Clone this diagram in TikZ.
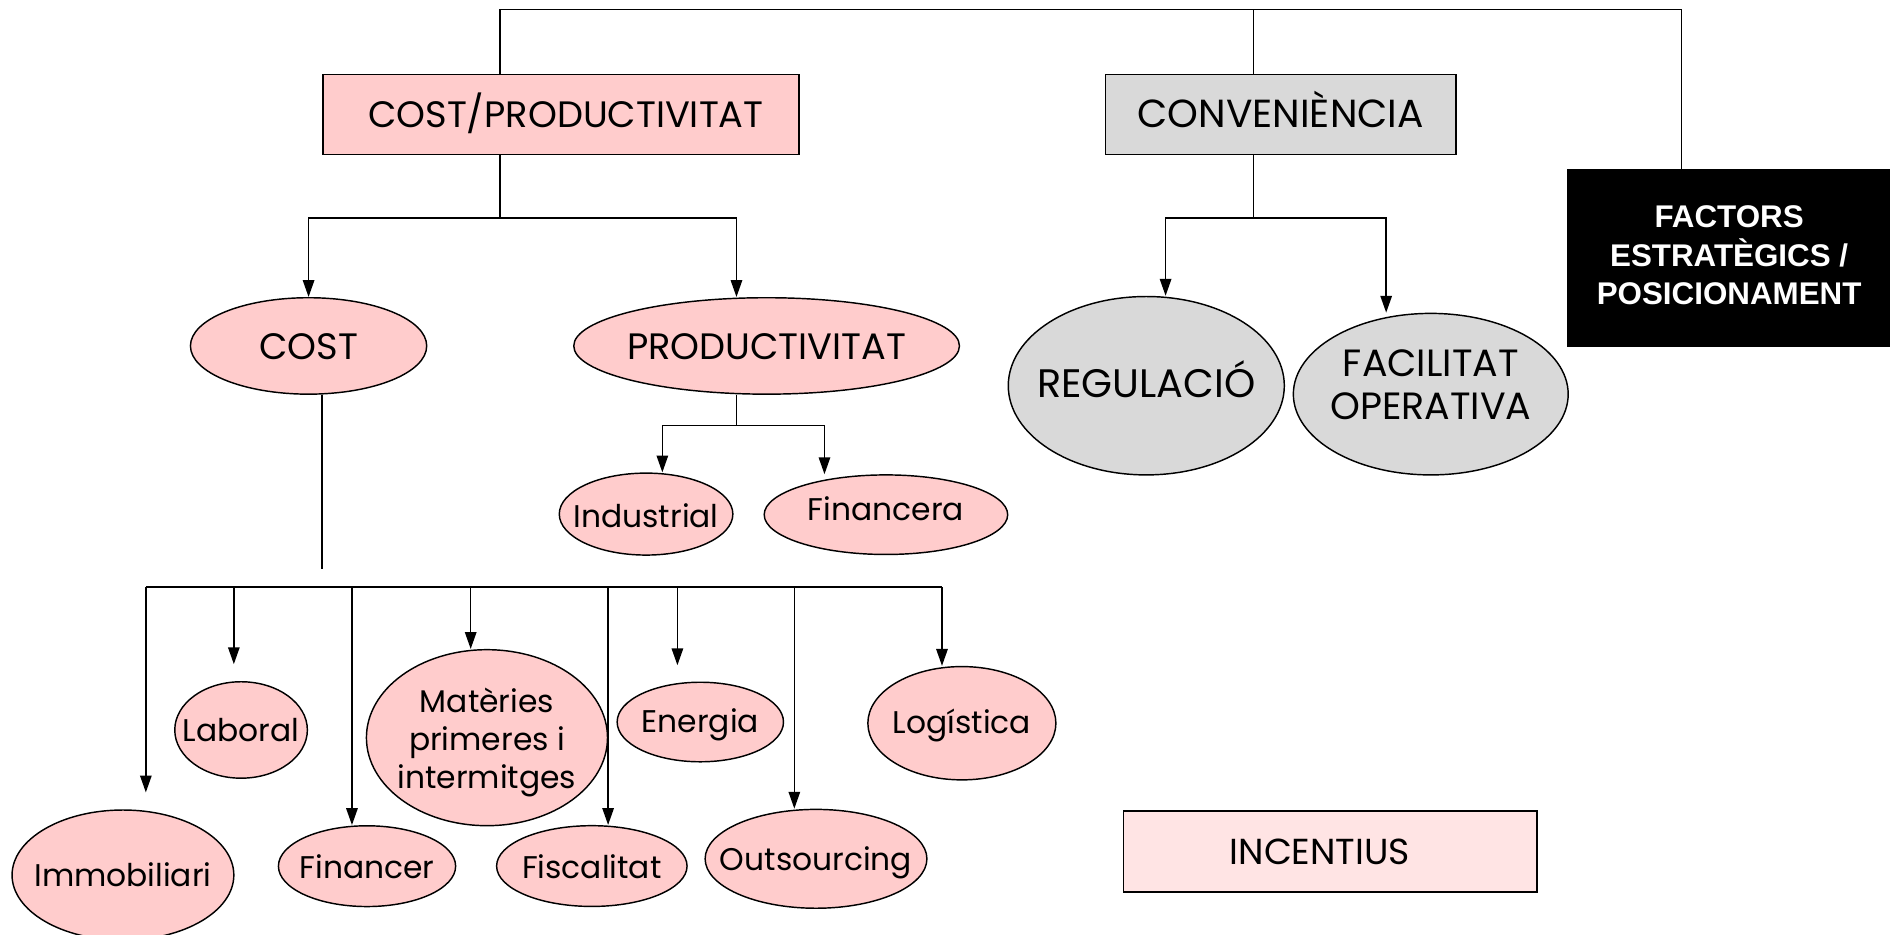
\documentclass[tikz,border=0pt]{standalone}
\usepackage{fontspec}
\usepackage{tikz}
\usetikzlibrary{shapes.geometric,arrows.meta}
\newfontfamily\gothic{Poppins}
\newfontfamily\arialfont{Liberation Sans}
\definecolor{rosa}{HTML}{FFCCCC}
\definecolor{gris}{HTML}{D9D9D9}
\definecolor{rosaclar}{HTML}{FFE4E4}
% text that does not widen the ellipse
\newcommand{\lbl}[2][-3.5pt]{\raisebox{#1}[\height][\depth]{\makebox[0pt]{\begin{tabular}{@{}c@{}}#2\end{tabular}}}}

\begin{document}
\begin{tikzpicture}[x=1pt,y=-1pt,line width=1.3pt,
    box/.style={draw, line width=1.2pt, inner sep=0pt, text height=22pt, text depth=0pt},
    ell/.style={draw, line width=1.2pt, ellipse, inner sep=0pt, fill=rosa, font=\gothic\fontsize{26}{31.5}\selectfont},
    arr/.style={-{Triangle[length=14pt,width=9.5pt]}}]
    \useasboundingbox (0,0) rectangle (1568,775.7);

    % Boxes
    \node[box, fill=rosa, minimum width=395, minimum height=66, font=\gothic\fontsize{30.5}{36}\selectfont]
        (cp) at (465.5,95) {\hspace*{8pt}COST/PRODUCTIVITAT};
    \node[box, fill=gris, minimum width=291, minimum height=66, font=\gothic\fontsize{32.5}{38}\selectfont]
        (conv) at (1062.5,95) {CONVENIÈNCIA};
    \node[draw, fill=black, text=white, minimum width=267, minimum height=146, inner sep=0pt,
        font=\arialfont\bfseries\fontsize{26}{31}\selectfont] (fact) at (1434.5,214)
        {\raisebox{-0.5pt}[\height][\depth]{\begin{tabular}{@{}c@{}}FACTORS\\ESTRATÈGICS /\\POSICIONAMENT\end{tabular}}};
    \node[box, fill=rosaclar, minimum width=343, minimum height=67, font=\gothic\fontsize{30}{36}\selectfont]
        (inc) at (1103.5,706.5) {INCENTIUS\hspace*{17pt}};

    % Ellipses
    \node[ell, minimum width=196, minimum height=80, font=\gothic\fontsize{30.5}{36}\selectfont] (cost) at (256,287) {\lbl[-4pt]{COST}};
    \node[ell, minimum width=320, minimum height=80, font=\gothic\fontsize{30.5}{36}\selectfont] (prod) at (636,287) {\lbl[-4pt]{PRODUCTIVITAT}};
    \node[ell, fill=gris, minimum width=229, minimum height=148, font=\gothic\fontsize{33}{36}\selectfont] (regu) at (951,320) {\lbl[0pt]{REGULACIÓ}};
    \node[ell, fill=gris, minimum width=228, minimum height=134, font=\gothic\fontsize{31.5}{36}\selectfont] (faci) at (1187,327) {\lbl[4pt]{FACILITAT\\OPERATIVA}};
    \node[ell, minimum width=144, minimum height=68] (indu) at (536,426.5) {\lbl[-5pt]{Industrial}};
    \node[ell, minimum width=202, minimum height=66] (finc) at (735,427) {\lbl[1.5pt]{Financera}};
    \node[ell, minimum width=184, minimum height=108] (immo) at (102,726) {\lbl{Immobiliari}};
    \node[ell, minimum width=110, minimum height=80] (labo) at (200,605.6) {\lbl{Laboral}};
    \node[ell, minimum width=200, minimum height=146] (mate) at (404,612) {\lbl[-4.5pt]{Matèries\\primeres i\\intermitges}};
    \node[ell, minimum width=138, minimum height=66] (ener) at (581,599) {\lbl[-2.5pt]{Energia}};
    \node[ell, minimum width=156, minimum height=94] (logi) at (798,600) {\lbl[-2.5pt]{Logística}};
    \node[ell, minimum width=147, minimum height=67] (fina) at (304.5,718.6) {\lbl[-4pt]{Financer}};
    \node[ell, minimum width=158, minimum height=67] (fisc) at (491,718.5) {\lbl[-4pt]{Fiscalitat}};
    \node[ell, minimum width=184, minimum height=82] (outs) at (677,712.5) {\lbl{Outsourcing}};

    % Top bracket
    \coordinate (t1) at (415,8);
    \coordinate (t2) at (1040,8);
    \coordinate (t3) at (1395,8);
    \draw (t1 |- cp.north) -- (t1) -- (t3) -- (t3 |- fact.north);
    \draw (t2) -- (t2 |- conv.north);

    % Cost / productivitat
    \coordinate (cpfork) at (415,181);
    \draw (cpfork |- cp.south) -- (cpfork);
    \draw[arr] (cpfork) -| (cost.north);
    \draw[arr] (cpfork) -| ([xshift=-25pt]prod.north);

    \coordinate (pfork) at (611,353);
    \draw (pfork |- prod.south) -- (pfork);
    \draw[arr] (pfork) -| ([xshift=13.5pt]indu.north);
    \draw[arr] (pfork) -| ([xshift=-51pt]finc.north);

    % Conveniencia
    \coordinate (vfork) at (1040,181);
    \draw (vfork |- conv.south) -- (vfork);
    \draw[arr] (vfork) -| ([xshift=16pt]regu.north);
    \draw[arr] (vfork) -| ([xshift=-37pt]faci.north);

    % Cost factors
    \coordinate (cend) at (267,472);
    \coordinate (bar) at (267,487);
    \draw (cend |- cost.south) -- (cend);
    \foreach \n/\dx/\gap in {immo/19/14, labo/-6/14, fina/-12.5/0, mate/-13.5/0,
        fisc/13.5/0, ener/-19/13.5, outs/-18/0, logi/-16.5/0}{
        \coordinate (tip\n) at ([xshift=\dx pt, yshift=\gap pt]\n.north);
        \draw[arr] (bar -| tip\n) -- (tip\n);
    }
    \draw (bar -| tipimmo) -- (bar -| tiplogi);
\end{tikzpicture}
\end{document}
